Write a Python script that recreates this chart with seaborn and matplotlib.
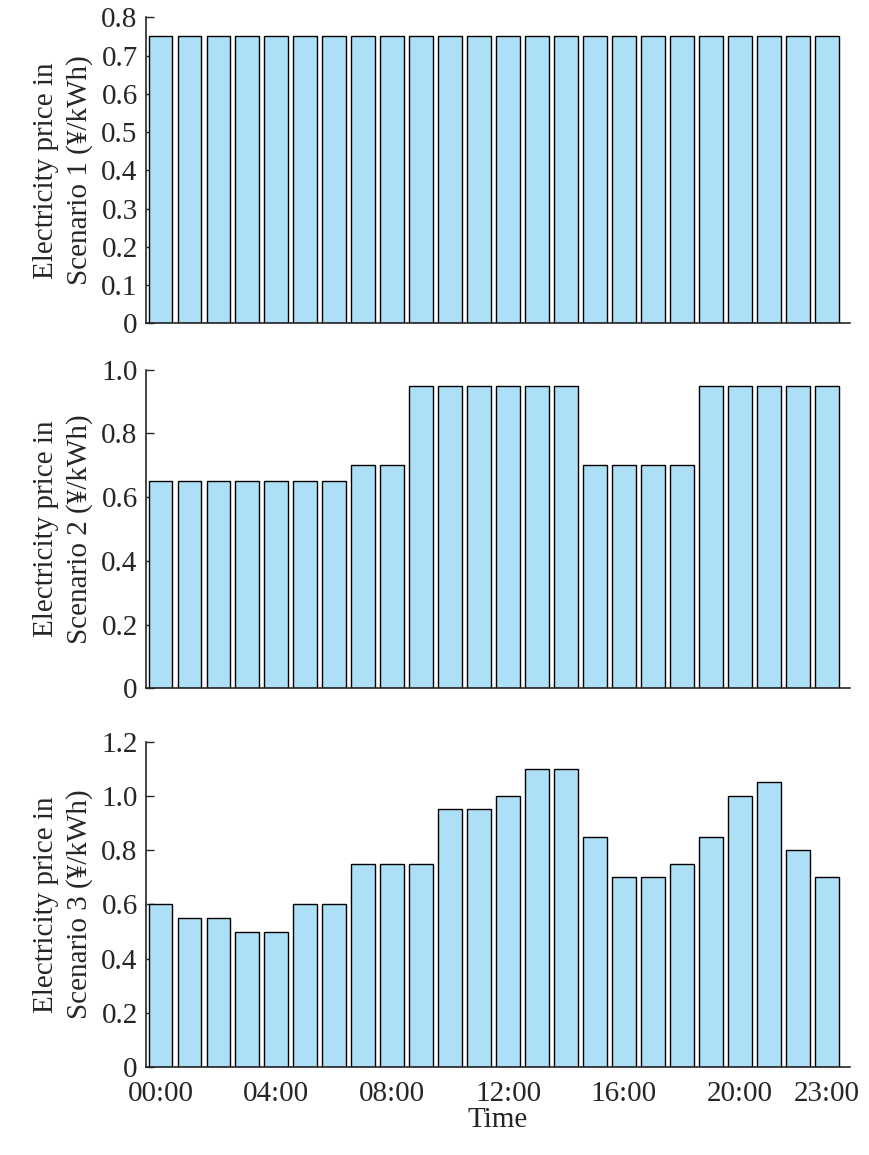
import matplotlib
matplotlib.use("Agg")
import matplotlib.pyplot as plt
import seaborn as sns
import pandas as pd

hours = list(range(24))
price_s1 = [0.75] * 24
price_s2 = [0.65] * 7 + [0.7] * 2 + [0.95] * 6 + [0.7] * 4 + [0.95] * 5
price_s3 = [0.6, 0.55, 0.55, 0.5, 0.5, 0.6, 0.6, 0.75, 0.75, 0.75, 0.95, 0.95,
            1.0, 1.1, 1.1, 0.85, 0.7, 0.7, 0.75, 0.85, 1.0, 1.05, 0.8, 0.7]
tick_pos = [0, 4, 8, 12, 16, 20, 23]
tick_labels = ["00:00", "04:00", "08:00", "12:00", "16:00", "20:00", "23:00"]

sns.set_style("ticks")
plt.rcParams["font.family"] = ["Liberation Serif", "DejaVu Serif"]
plt.rcParams["font.size"] = 21

fig = plt.figure(figsize=(8.69, 11.55), dpi=100)
axes = [fig.add_axes([0.168, 0.72, 0.81, 0.265]),
        fig.add_axes([0.168, 0.404, 0.81, 0.276]),
        fig.add_axes([0.168, 0.076, 0.81, 0.282])]

data = [price_s1, price_s2, price_s3]
ylims = [(0, 0.8), (0, 1.0), (0, 1.2)]
yticks = [[0, .1, .2, .3, .4, .5, .6, .7, .8],
          [0, .2, .4, .6, .8, 1.0],
          [0, .2, .4, .6, .8, 1.0, 1.2]]

for i, ax in enumerate(axes):
    df = pd.DataFrame({"hour": hours, "price": data[i]})
    sns.barplot(data=df, x="hour", y="price", ax=ax, color="#ADDFF7",
                saturation=1, edgecolor="black", linewidth=1, width=0.82)
    ax.set_ylim(*ylims[i])
    ax.set_xlim(-0.5, 23.8)
    ax.set_yticks(yticks[i])
    ax.set_yticklabels(["0" if v == 0 else f"{v:.1f}" for v in yticks[i]])
    ax.set_ylabel(f"Electricity price in\nScenario {i + 1} (\u00a5/kWh)",
                  linespacing=1.35, labelpad=6)
    sns.despine(ax=ax)
    ax.tick_params(direction="in", length=6, width=1, pad=6)
    for s in ax.spines.values():
        s.set_linewidth(1.2)
    if i < 2:
        ax.set_xticks(hours)
        ax.set_xticklabels([])
        ax.set_xlabel("")
    else:
        ax.set_xticks(tick_pos)
        ax.set_xticklabels(tick_labels)
        ax.tick_params(axis="x", pad=10)
        ax.set_xlabel("Time", labelpad=0)

fig.savefig("out.png", dpi=100)
